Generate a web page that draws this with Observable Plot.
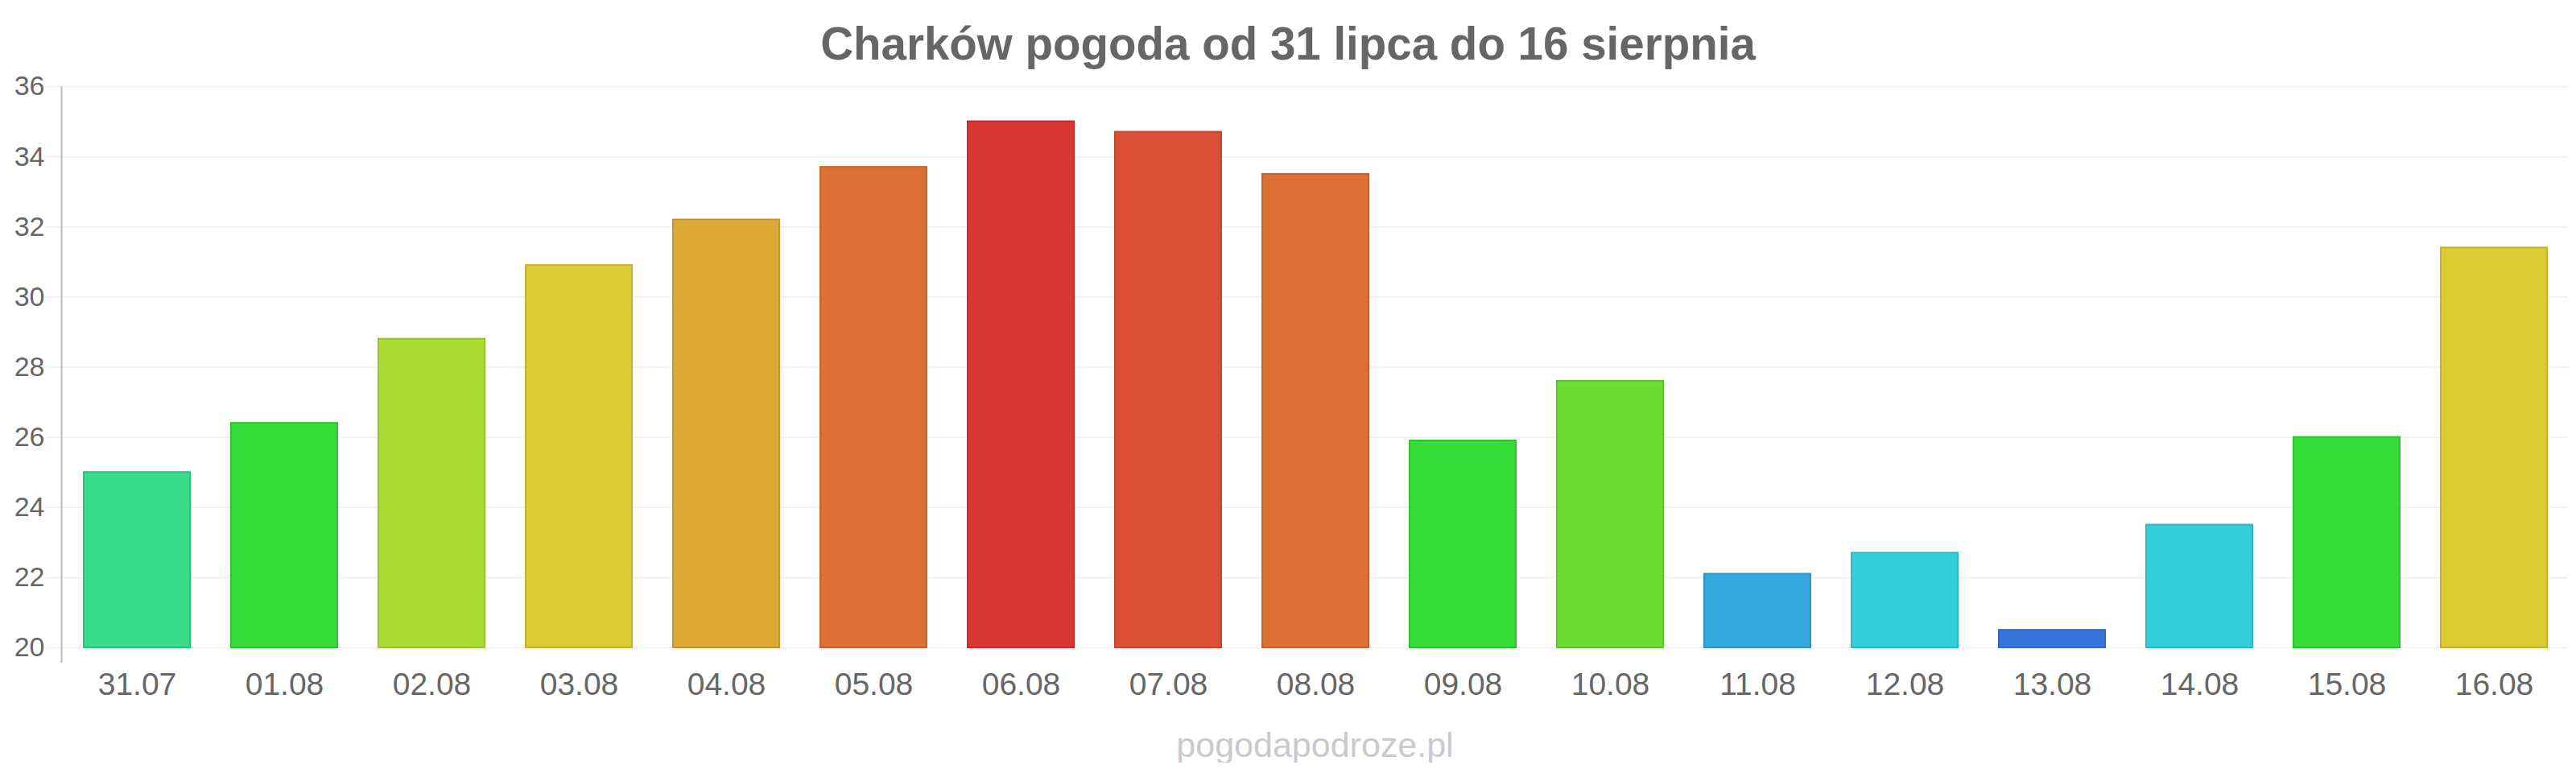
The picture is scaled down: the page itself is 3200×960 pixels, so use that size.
<!DOCTYPE html>
<html><head><meta charset="utf-8">
<script src="https://cdn.jsdelivr.net/npm/d3@7"></script>
<script src="https://cdn.jsdelivr.net/npm/@observablehq/plot@0.6"></script>
<style>
html,body{margin:0;padding:0;background:#fff;}
#title{font-family:"Liberation Sans",Arial,sans-serif;font-weight:bold;font-size:56.5px;line-height:57px;color:#666;text-align:center;padding-top:26px;height:57px;width:3200px;}
#caption{font-family:"Liberation Sans",Arial,sans-serif;font-size:43px;line-height:43px;color:#c9c9ce;text-align:center;padding-top:24px;margin-left:77px;width:3113px;}
#chart svg{display:block;}
</style></head><body>
<div id="title">Charków pogoda od 31 lipca do 16 sierpnia</div>
<div id="chart"></div>
<div id="caption">pogodapodroze.pl</div>
<script>
const dates = ["31.07","01.08","02.08","03.08","04.08","05.08","06.08","07.08","08.08","09.08","10.08","11.08","12.08","13.08","14.08","15.08","16.08"];
const temps = [25.0,26.4,28.8,30.9,32.2,33.7,35.0,34.7,33.5,25.9,27.6,22.1,22.7,20.5,23.5,26.0,31.4];
const colors = ["#38dc8a","#35dc38","#acdc34","#dbcc34","#dcaa35","#dd7035","#da3535","#dc5035","#dd7035","#35dc38","#6ddc35","#35a8dc","#35cfdc","#3575dc","#35cfdc","#35dc38","#dbcc34"];
const yTicks = [20,22,24,26,28,30,32,34,36];

const data = dates.map((d, i) => ({date: d, temp: temps[i], color: colors[i]}));

const axisLine = (index, scales, values, dims) => {
  const x = dims.marginLeft - 0.5;
  return d3.create("svg:line")
    .attr("x1", x).attr("x2", x)
    .attr("y1", scales.y(yTicks[yTicks.length - 1]))
    .attr("y2", scales.y(yTicks[0]) + 19)
    .attr("stroke", "#bbbbbb").attr("stroke-width", 2)
    .node();
};

const chart = Plot.plot({
  width: 3200,
  height: 797,
  marginLeft: 77,
  marginRight: 10,
  marginTop: 24,
  marginBottom: 76,
  style: {fontFamily: "'Liberation Sans', Arial, sans-serif", background: "#fff", color: "#666", overflow: "visible"},
  x: {domain: dates, paddingInner: 0.28, paddingOuter: 0.14, label: null},
  y: {domain: [20, 36], label: null},
  marks: [
    Plot.gridY(yTicks, {stroke: "#f2f2f2", strokeOpacity: 1, strokeWidth: 2}),
    Plot.axisY(yTicks, {tickSize: 20, tickPadding: 2, stroke: "#f2f2f2", strokeOpacity: 1, strokeWidth: 2, fill: "#666", fontSize: 34, label: null}),
    Plot.axisX({tickSize: 0, tickPadding: 31, fill: "#666", fontSize: 39, label: null}),
    Plot.barY(data, {
      x: "date", y1: 20, y2: "temp",
      fill: d => d.color,
      stroke: d => d3.color(d.color).darker(0.35).formatHex(),
      strokeWidth: 2
    }),
    axisLine
  ]
});
document.getElementById("chart").appendChild(chart);
</script>
</body></html>
